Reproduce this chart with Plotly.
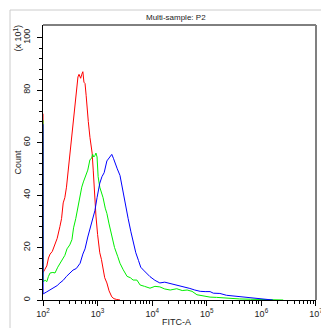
import plotly.graph_objects as go

# ---- data (x as log10 of FITC-A, y as Count in units of 10^1) ----
red_logx = [2.000, 2.002, 2.03, 2.07, 2.10, 2.13, 2.17, 2.22, 2.26, 2.31, 2.34, 2.37, 2.40, 2.43, 2.46,
            2.49, 2.53, 2.56, 2.59, 2.61, 2.64, 2.66, 2.69, 2.71, 2.73, 2.75, 2.77, 2.79, 2.81, 2.83,
            2.86, 2.88, 2.90, 2.92, 2.94, 2.97, 3.00, 3.04, 3.07, 3.10, 3.13, 3.17, 3.21, 3.26, 3.30,
            3.35, 3.41]
red_count = [71, 10.5, 11.5, 13, 16, 17.5, 18.5, 21, 23.5, 28, 31, 37, 39, 43, 49,
             55, 63.5, 70, 77, 80, 85, 86, 84.5, 86, 87, 83, 82.5, 78, 72, 68,
             62, 59, 56, 49.5, 40, 32, 25, 18, 15.5, 11.5, 8.5, 6.5, 3.5, 1.2, 0.5,
             0.2, 0]

green_logx = [2.000, 2.002, 2.04, 2.07, 2.10, 2.13, 2.18, 2.22, 2.27, 2.31, 2.35, 2.40, 2.44, 2.49,
              2.53, 2.56, 2.60, 2.64, 2.68, 2.71, 2.74, 2.77, 2.80, 2.82, 2.86, 2.89, 2.91, 2.93,
              2.95, 2.97, 2.99, 3.01, 3.04, 3.07, 3.10, 3.14, 3.17, 3.21, 3.26, 3.31, 3.37, 3.41,
              3.47, 3.54, 3.60, 3.65, 3.72, 3.78, 3.86, 3.96, 4.05, 4.14, 4.23, 4.33, 4.45, 4.55,
              4.64, 4.73, 4.82, 4.94, 5.06, 5.18, 5.30, 5.45, 5.60, 5.80, 5.97, 6.20, 6.40]
green_count = [68.5, 7, 7.5, 7, 9, 10.3, 10.5, 10.3, 12.5, 14, 15.2, 17, 19.5, 21,
               23, 27.5, 31, 35.5, 39, 43, 45, 47, 48.5, 49.5, 53.5, 54, 55.5, 54.5,
               55, 56, 54.5, 47, 43, 41, 39, 35, 33, 29, 24, 20, 16.5, 14,
               11.5, 9, 8.5, 7.6, 7.6, 5.7, 5.2, 4.5, 5.2, 5, 4.2, 3.8, 4.3, 3.6,
               3.8, 3.3, 2, 1.6, 1.1, 1.0, 0.8, 0.6, 0.4, 0.3, 0.2, 0.1, 0]

blue_logx = [2.000, 2.002, 2.06, 2.13, 2.20, 2.26, 2.31, 2.37, 2.43, 2.49, 2.55, 2.61, 2.68, 2.73,
             2.77, 2.82, 2.86, 2.90, 2.95, 2.99, 3.04, 3.08, 3.12, 3.17, 3.21, 3.26, 3.29, 3.32,
             3.36, 3.41, 3.44, 3.47, 3.52, 3.56, 3.61, 3.65, 3.70, 3.75, 3.79, 3.84, 3.90, 3.96,
             4.05, 4.14, 4.23, 4.33, 4.42, 4.51, 4.60, 4.69, 4.78, 4.88, 4.97, 5.06, 5.12, 5.24,
             5.36, 5.49, 5.61, 5.79, 5.97, 6.10, 6.21]
blue_count = [67, 2.3, 3, 3.8, 4.5, 5.5, 6.5, 7.5, 9, 10.3, 11.4, 12, 14, 17.5,
              19.5, 24, 27, 30, 34, 39, 44.5, 47, 48.5, 53, 54, 55.5, 54, 52,
              50, 47.5, 44, 41.5, 36, 31, 26, 22, 18, 15, 12.5, 11.4, 10, 8.9,
              7.5, 6.5, 6.8, 6.3, 5.8, 5.2, 5, 4.4, 3.8, 3.3, 3.2, 3.2, 2.6, 2.5,
              1.8, 1.5, 1.2, 0.8, 0.3, 0.1, 0]

x_tick_exp = [2, 3, 4, 5, 6, 7]
x_tick_text = ["10<sup>2</sup>", "10<sup>3</sup>", "10<sup>4</sup>", "10<sup>5</sup>",
               "10<sup>6</sup>", "10<sup>7</sup>"]
y_tick_vals = [0, 20, 40, 60, 80, 100]
y_tick_text = ["0", "20", "40", "60", "80", "100"]

FONT = "Liberation Sans, Arial, sans-serif"

fig = go.Figure()
for lx, cnt, col in [(red_logx, red_count, "#ff0000"),
                     (green_logx, green_count, "#00ee00"),
                     (blue_logx, blue_count, "#0000ff")]:
    fig.add_trace(go.Scatter(x=[10 ** v for v in lx], y=cnt, mode="lines",
                             line=dict(color=col, width=1), hoverinfo="skip",
                             showlegend=False))

minor_x = [k * 10 ** d for d in range(2, 7) for k in range(2, 10)]
minor_y = [v for v in range(4, 104, 4) if v % 20 != 0]

fig.update_layout(
    width=321, height=328, autosize=False,
    margin=dict(l=43, r=5, t=25, b=28, pad=0),
    paper_bgcolor="white", plot_bgcolor="white",
    font=dict(family=FONT, size=9, color="#222222"),
    xaxis=dict(type="log", range=[2, 7.0005], showgrid=False, zeroline=False, automargin=False,
               showline=True, linecolor="black", linewidth=1,
               ticks="outside", ticklen=5, tickcolor="black",
               tickvals=[10 ** e for e in x_tick_exp], ticktext=x_tick_text,
               ticklabeloverflow="allow",
               tickfont=dict(size=9, family=FONT, color="#222222"),
               minor=dict(tickvals=minor_x, ticks="outside", ticklen=3, tickcolor="black"),
               layer="below traces"),
    yaxis=dict(range=[0, 104.8], showgrid=False, zeroline=False, automargin=False,
               showline=True, linecolor="black", linewidth=1,
               ticks="outside", ticklen=5, tickcolor="black",
               tickvals=y_tick_vals, ticktext=y_tick_text, tickangle=-90,
               ticklabelstandoff=3,
               tickfont=dict(size=9, family=FONT, color="#222222"),
               minor=dict(tickvals=minor_y, ticks="outside", ticklen=3, tickcolor="black"),
               layer="below traces"),
    shapes=[
        # outer light frame
        dict(type="rect", xref="paper", yref="paper",
             x0=(10 - 43) / 273, x1=(330 - 43) / 273,
             y0=(300 - 335) / 275, y1=(300 - 10) / 275,
             line=dict(color="#cccccc", width=1), layer="below"),
        # top border
        dict(type="line", xref="paper", yref="paper", x0=0, x1=1, y0=1, y1=1,
             line=dict(color="black", width=1)),
        # right border
        dict(type="line", xref="paper", yref="paper", x0=1, x1=1, y0=0, y1=1,
             line=dict(color="#808080", width=2)),
    ],
    annotations=[
        dict(text="Multi-sample: P2", xref="paper", yref="paper",
             x=(176 - 43) / 273, y=(300 - 17) / 275, showarrow=False,
             xanchor="center", yanchor="middle",
             font=dict(size=8, family=FONT, color="#222222")),
        dict(text="FITC-A", xref="paper", yref="paper",
             x=(176 - 43) / 273, y=(300 - 322) / 275, showarrow=False,
             xanchor="center", yanchor="middle",
             font=dict(size=9, family=FONT, color="#222222")),
        dict(text="Count", xref="paper", yref="paper", textangle=-90,
             x=(17.5 - 43) / 273, y=(300 - 162) / 275, showarrow=False,
             xanchor="center", yanchor="middle",
             font=dict(size=9, family=FONT, color="#222222")),
        dict(text="(x 10<sup>1</sup>)", xref="paper", yref="paper", textangle=-90,
             x=(17.5 - 43) / 273, y=(300 - 38) / 275, showarrow=False,
             xanchor="center", yanchor="middle",
             font=dict(size=9, family=FONT, color="#222222")),
    ],
)

fig.write_html("out.html", config={"displayModeBar": False, "staticPlot": True},
               post_script="document.body.style.margin='0';document.body.style.overflow='hidden';")
